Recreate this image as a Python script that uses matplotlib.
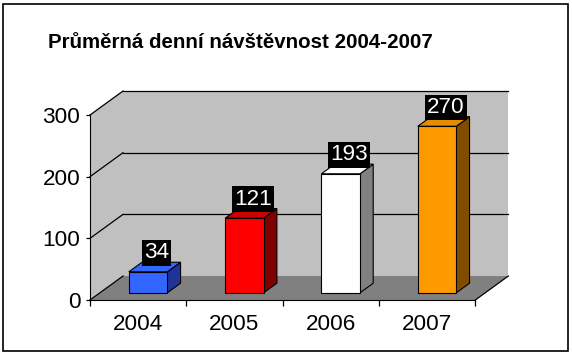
import matplotlib
matplotlib.use("Agg")
import matplotlib.pyplot as plt
from matplotlib.patches import Polygon, Rectangle

years = ['2004', '2005', '2006', '2007']
visits = [34, 121, 193, 270]
front_colors = ['#3366ff', '#ff0000', '#ffffff', '#ff9900']
side_colors = ['#1f3399', '#800000', '#808080', '#804c00']
top_colors = ['#3366ff', '#cc0000', '#ffffff', '#e68a00']
y_ticks = [0, 100, 200, 300]
title = 'Průměrná denní návštěvnost 2004-2007'

plt.rcParams['font.family'] = ['Liberation Sans', 'DejaVu Sans']

fig = plt.figure(figsize=(5.72, 3.57), dpi=100)
fig.patch.set_facecolor('white')
ax = fig.add_axes([90 / 572, 57 / 357, 385.3 / 572, 185 / 357])
ax.set_xlim(-0.5, 3.5)
ax.set_ylim(0, 300)
ax.patch.set_visible(False)

# depth of the fake 3d box, in data units
ddx, ddy = 0.343, 38.9
x0, x1 = -0.5, 3.5
ymax = y_ticks[-1]

# walls and floor
side_wall = Polygon([(x0, 0), (x0, ymax), (x0 + ddx, ymax + ddy), (x0 + ddx, ddy)],
                    closed=True, fc='#c0c0c0', ec='none', clip_on=False, zorder=1)
back_wall = Polygon([(x0 + ddx, ddy), (x1 + ddx, ddy), (x1 + ddx, ymax + ddy), (x0 + ddx, ymax + ddy)],
                    closed=True, fc='#c0c0c0', ec='none', clip_on=False, zorder=1)
floor = Polygon([(x0, 0), (x1, 0), (x1 + ddx, ddy), (x0 + ddx, ddy)],
                closed=True, fc='#808080', ec='none', clip_on=False, zorder=1)
for p in (side_wall, back_wall, floor):
    ax.add_patch(p)

# gridlines
for t in y_ticks:
    ax.plot([x0, x0 + ddx], [t, t + ddy], color='black', lw=0.9, clip_on=False, zorder=2)
    if t > 0:
        ax.plot([x0 + ddx, x1 + ddx], [t + ddy, t + ddy], color='black', lw=0.9, clip_on=False, zorder=2)
ax.plot([x1, x1 + ddx], [0, ddy], color='black', lw=0.9, clip_on=False, zorder=2)

# bars
f0, fd = 0.3, 0.4
w = 0.4
bdx, bdy = fd * ddx, fd * ddy
for i, v in enumerate(visits):
    bx = i - w / 2 + f0 * ddx
    by = f0 * ddy
    side = Polygon([(bx + w, by), (bx + w + bdx, by + bdy), (bx + w + bdx, by + v + bdy), (bx + w, by + v)],
                   closed=True, fc=side_colors[i], ec='black', lw=0.8, clip_on=False, zorder=3)
    top = Polygon([(bx, by + v), (bx + w, by + v), (bx + w + bdx, by + v + bdy), (bx + bdx, by + v + bdy)],
                  closed=True, fc=top_colors[i], ec='black', lw=0.8, clip_on=False, zorder=3)
    front = Rectangle((bx, by), w, v, fc=front_colors[i], ec='black', lw=0.8, clip_on=False, zorder=4)
    ax.add_patch(side)
    ax.add_patch(top)
    ax.add_patch(front)
    ax.annotate(str(v), (bx + w / 2 + bdx / 2, by + v), xytext=(2, 19), textcoords='offset pixels',
                ha='center', va='center', fontsize=16.2, color='white', zorder=6,
                annotation_clip=False,
                bbox=dict(boxstyle='square,pad=0.1', fc='black', ec='none'))

# axes
ax.spines['top'].set_visible(False)
ax.spines['right'].set_visible(False)
ax.spines['left'].set_zorder(5)
ax.spines['bottom'].set_zorder(5)
ax.set_yticks(y_ticks)
ax.set_yticklabels([str(t) for t in y_ticks], fontsize=16.2)
ax.tick_params(axis='y', length=3, width=0.9, pad=4)
ax.set_xticks(range(len(years)))
ax.set_xticklabels(years, fontsize=16.2)
ax.set_xticks([x0 + k for k in range(len(years) + 1)], minor=True)
ax.tick_params(axis='x', which='major', length=0, pad=10)
ax.tick_params(axis='x', which='minor', length=4, width=0.9)

fig.text(48 / 572, 1 - 48 / 357, title, fontsize=14.8, fontweight='bold', va='baseline', ha='left')

fig.add_artist(Rectangle((3 / 572, 6 / 357), 565 / 572, 347 / 357, transform=fig.transFigure,
                         fill=False, ec='black', lw=1.2))

fig.savefig('out.png', dpi=100)
